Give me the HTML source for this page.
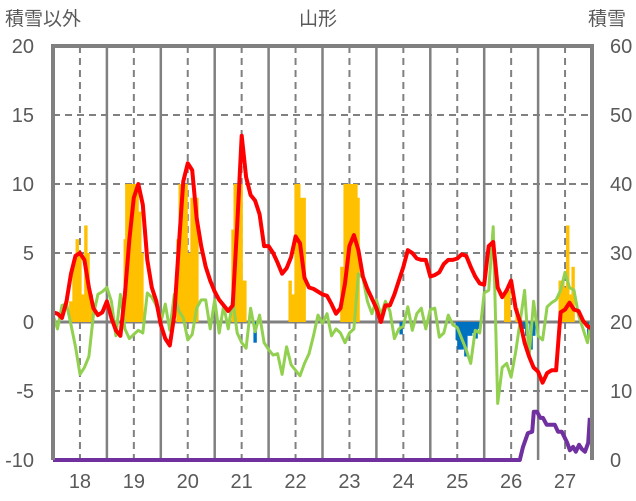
<!DOCTYPE html>
<html><head><meta charset="utf-8">
<style>
html,body{margin:0;padding:0;background:#fff;}
svg{display:block;font-family:"Liberation Sans","Noto Sans CJK JP",sans-serif;}
</style></head>
<body>
<svg id="chart" width="636" height="501" viewBox="0 0 636 501">
<text x="5" y="25" font-size="19" fill="#595959">積雪以外</text>
<text x="318" y="25" font-size="19" fill="#595959" text-anchor="middle">山形</text>
<text x="588" y="25" font-size="19" fill="#595959">積雪</text>
<g id="grid"></g>
<g id="bars"></g>
<g id="lines"></g>
<g id="axes"></g>
</svg>
<script>
const years = [18,19,20,21,22,23,24,25,26,27];
const leftTicks = [-10,-5,0,5,10,15,20];
const rightTicks = [0,10,20,30,40,50,60];
const lineStart = 17.5;
const lineStep = 1/12;
const redSeries = [
0.7,0.6,0.3,1.5,3.5,4.8,5.0,4.5,2.5,1.0,0.5,0.7,
1.5,0.3,-0.6,-1.0,2.0,6.0,9.0,10.0,8.5,4.5,2.5,1.5,
-0.2,-1.2,-1.7,0.5,5.5,10.2,11.5,11.0,7.5,5.5,4.0,3.0,
2.2,1.6,1.2,0.8,1.2,7.0,13.5,10.5,9.2,8.8,7.8,5.5,
5.5,5.0,4.3,3.5,3.9,4.7,6.2,5.7,3.2,2.5,2.4,2.2,
2.0,1.9,1.3,0.6,1.0,2.8,5.5,6.3,5.2,3.3,2.4,1.7,
1.0,0.0,1.2,1.2,2.0,3.0,4.0,5.2,5.0,4.6,4.5,4.5,
3.3,3.4,3.6,4.2,4.5,4.5,4.6,4.9,4.8,4.0,3.3,2.8,
2.7,5.5,5.8,2.5,1.8,2.3,3.0,1.0,0.0,-1.5,-2.5,-3.3,
-3.6,-4.4,-3.7,-3.5,-3.5,0.7,0.9,1.4,0.9,0.8,0.1,-0.3,
-0.5];
const greenSeries = [
0.5,-0.5,1.2,1.3,-0.2,-1.8,-3.8,-3.3,-2.5,0.5,2.0,2.2,
2.5,1.5,-1.0,2.0,-0.5,-1.2,-0.9,-0.6,-0.8,2.1,1.8,1.2,
0.0,1.3,-0.6,2.0,0.8,0.3,-1.3,-0.9,1.0,1.6,1.6,-0.5,
1.6,-0.8,1.2,-0.5,1.6,-0.8,-1.5,-1.9,1.0,-0.7,0.5,-1.5,
-2.0,-2.4,-2.3,-3.8,-1.8,-3.1,-3.5,-3.9,-3.0,-2.3,-1.0,0.5,
-0.1,0.6,-1.0,-0.5,-0.8,-1.5,-0.8,-0.5,3.5,3.2,1.5,0.6,
1.6,0.5,1.5,0.8,-1.2,-0.5,-0.3,1.1,-0.6,0.6,1.0,-0.5,
0.9,1.0,-1.1,-0.8,0.5,-0.2,-0.4,-1.2,-2.0,-3.0,-0.6,-0.8,
2.1,2.3,6.9,-5.9,-3.3,-3.0,-4.0,-2.2,0.0,2.3,-2.5,1.5,
-1.0,-1.3,1.1,1.4,1.6,2.3,3.6,2.5,2.3,0.5,-0.5,-1.5,
0.4];
const purpleTimes = [17.5,26.16,26.22,26.31,26.39,26.42,26.48,26.54,26.59,26.66,26.81,26.87,26.94,27.04,27.09,27.15,27.20,27.26,27.31,27.37,27.43,27.46];
const purpleValues = [0,0,1.9,3.9,4.1,7.0,7.0,6.1,6.1,5.1,5.1,4.1,4.1,2.5,1.4,1.9,1.2,2.2,1.6,1.2,2.5,6.1];
const orangeTimes = [17.83,17.89,17.95,18.00,18.06,18.11,18.15,18.21,
18.84,18.87,18.93,18.97,19.02,19.06,19.11,19.15,
19.82,19.86,19.91,19.97,20.02,20.08,20.13,20.17,
20.84,20.88,20.93,20.99,21.03,21.06,
21.90,21.95,22.01,22.06,22.10,22.16,
22.86,22.92,22.97,23.03,23.08,23.12,23.16,
25.90,25.96,26.11,
26.91,26.96,27.02,27.05,27.11,27.15];
const orangeValues = [1.5,4.5,6.0,5.0,2.0,7.0,5.0,2.0,
6.0,10,10,10,10,10,8,5,
6.0,10,10,10,5,9,9,9,
6.7,10,10,10,3,3,
3,2,10,10,9,9,
4,10,10,10,10,10,9,
2.3,2.3,1.0,
3,3,2.5,7,2,4];
const blueTimes = [21.25,23.96,25.0,25.03,25.09,25.13,25.16,25.2,25.25,25.29,25.35,25.38,26.24,26.29,26.37,26.42,27.44];
const blueValues = [-1.5,-0.9,-1.3,-2.0,-2.0,-1.5,-2.5,-1.0,-1.0,-0.8,-1.2,-0.5,-0.5,-1.0,-2.0,-1.0,-1.0];

const X0=53, X1=592, Y0=46, Y1=460;
const xS = t => X0 + (t-17.5)*(X1-X0)/10;
const yL = v => Y1 - (v+10)*(Y1-Y0)/30;
const yR = v => Y1 - v*(Y1-Y0)/60;
const NS='http://www.w3.org/2000/svg';
function mk(tag, attrs, parent){const e=document.createElementNS(NS,tag);for(const k in attrs)e.setAttribute(k,attrs[k]);parent.appendChild(e);return e;}
const grid=document.getElementById('grid'), bars=document.getElementById('bars'), lines=document.getElementById('lines'), axes=document.getElementById('axes');

leftTicks.forEach(v=>{
  if(v!==-10 && v!==20 && v!==0){
    const l=mk('line',{x1:X0,x2:X1,y1:yL(v),y2:yL(v),stroke:'#808080','stroke-width':2,'stroke-dasharray':'7,5'},grid);
    
    
  }
  const t=mk('text',{x:34,y:yL(v)+7,'font-size':20,fill:'#595959','text-anchor':'end'},axes);
  t.textContent=v;
  
  
});
rightTicks.forEach(v=>{
  const t=mk('text',{x:610,y:yR(v)+7,'font-size':20,fill:'#595959'},axes);
  t.textContent=v;
  
  
});
years.forEach(y=>{
  const d=mk('line',{x1:xS(y),x2:xS(y),y1:Y0,y2:Y1,stroke:'#808080','stroke-width':2,'stroke-dasharray':'7,5'},grid);
  
  
  if(y<27){
    const s=mk('line',{x1:xS(y+0.5),x2:xS(y+0.5),y1:Y0,y2:Y1,stroke:'#808080','stroke-width':2.5},grid);
    
    
  }
  const t=mk('text',{x:xS(y),y:488,'font-size':20,fill:'#595959','text-anchor':'middle'},axes);
  t.textContent=y;
  
  
});
const bw=3.4;
orangeTimes.forEach((t,i)=>{
  const v=orangeValues[i];
  const r=mk('rect',{x:xS(t)-bw/2,y:yL(v),width:bw,height:yL(0)-yL(v),fill:'#FFC000'},bars);
  
  
});
blueTimes.forEach((t,i)=>{
  const v=blueValues[i];
  const r=mk('rect',{x:xS(t)-bw/2,y:yL(0),width:bw,height:yL(v)-yL(0),fill:'#0070C0'},bars);
  
  
});
const zl=mk('line',{x1:X0,x2:X1,y1:yL(0),y2:yL(0),stroke:'#808080','stroke-width':3},grid);



function pts(arr){return arr.map((v,i)=>xS(lineStart+i*lineStep).toFixed(1)+','+yL(v).toFixed(1)).join(' ');}
const g=mk('polyline',{points:pts(greenSeries),fill:'none',stroke:'#92D050','stroke-width':3,'stroke-linejoin':'round'},lines);


const r=mk('polyline',{points:pts(redSeries),fill:'none',stroke:'#FF0000','stroke-width':4,'stroke-linejoin':'round'},lines);


const p=mk('polyline',{points:purpleTimes.map((t,i)=>xS(t).toFixed(1)+','+yR(purpleValues[i]).toFixed(1)).join(' '),fill:'none',stroke:'#7030A0','stroke-width':4,'stroke-linejoin':'round'},lines);



const b=mk('path',{d:`M${X0},${Y1} L${X0},${Y0} L${X1},${Y0} L${X1},${Y1}`,fill:'none',stroke:'#808080','stroke-width':4},axes);


</script>
</body></html>
